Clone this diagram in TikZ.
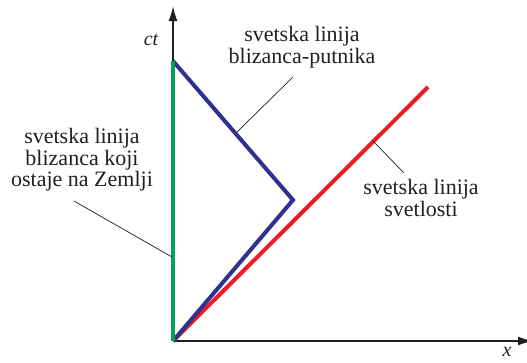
\documentclass[tikz,border=0pt]{standalone}
\usepackage{fontspec}
\setmainfont{Liberation Serif}
\usetikzlibrary{arrows.meta}
\definecolor{wgreen}{RGB}{0,166,81}
\definecolor{wblue}{RGB}{46,49,146}
\definecolor{wred}{RGB}{237,28,36}
\definecolor{txt}{RGB}{35,31,32}
\tikzset{
  axis/.style={line width=1.6pt, draw=txt},
  wline/.style={line width=4pt},
  leader/.style={line width=0.7pt, draw=txt},
  lbl/.style={align=center, font=\fontsize{22}{21.7}\selectfont, text=txt, inner sep=0pt},
  axlbl/.style={font=\fontsize{20}{24}\selectfont\itshape, text=txt, inner sep=0pt}
}
\begin{document}
\begin{tikzpicture}[x=1pt,y=-1pt]
\useasboundingbox (0,0) rectangle (527,362);
\coordinate (O) at (173,341);
\coordinate (T) at (173,61);
\coordinate (P) at (293,200);
\coordinate (L) at (428,87);
\coordinate (Y) at (173,6);
\coordinate (X) at (533,341);
% axes
\draw[axis, -{Latex[length=15pt,width=9pt]}] (O) -- (Y);
\draw[axis, -{Latex[length=15pt,width=9pt]}] (O) -- (X);
\node[axlbl] (ct) at (151,40) {ct};
\node[axlbl] (xl) at (507,352) {x};
% world lines
\draw[wline, wred] (O) -- (L);
\draw[wline, wblue, line join=miter] (O) -- (P) -- (T);
\draw[wline, wgreen] (O) -- (T);
% labels
\node[lbl] (lb) at (302,47) {svetska linija\\blizanca-putnika};
\node[lbl] (lg) at (82,160) {svetska linija\\blizanca koji\\ostaje na Zemlji};
\node[lbl] (lr) at (421,198) {svetska linija\\svetlosti};
% leaders
\coordinate (bA) at (293,77);
\coordinate (bB) at (237,132);
\coordinate (gA) at (74,201);
\coordinate (gB) at (172,257);
\coordinate (rA) at (404,173);
\coordinate (rB) at (373,141);
\draw[leader] (bA) -- (bB);
\draw[leader] (gA) -- (gB);
\draw[leader] (rA) -- (rB);
\end{tikzpicture}
\end{document}
